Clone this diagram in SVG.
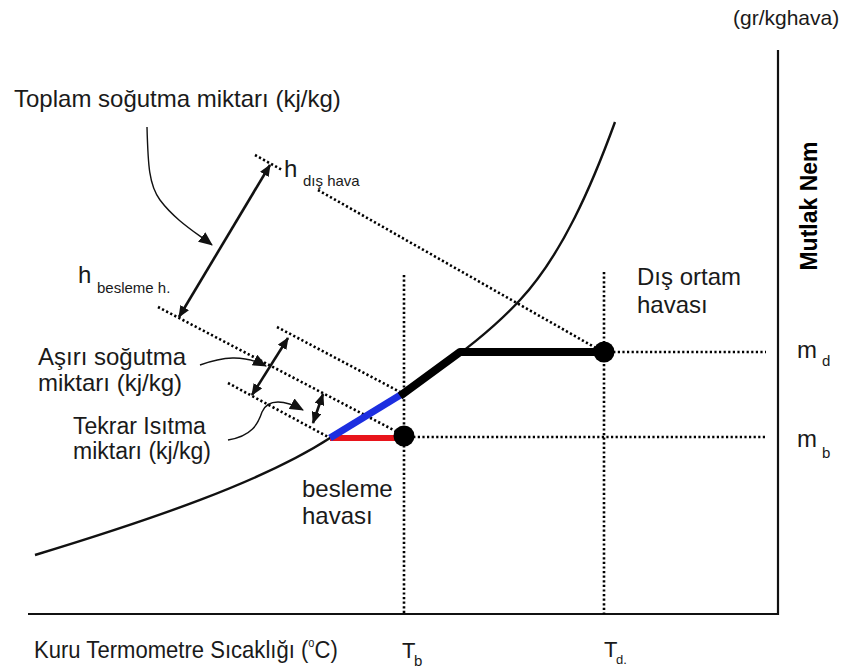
<svg xmlns="http://www.w3.org/2000/svg" width="842" height="670" viewBox="0 0 842 670">
<style>
text{font-family:"Liberation Sans",Arial,sans-serif;fill:#1a1a1a}
.lbl{font-size:24px}
.sub{font-size:15px}
.dot{fill:none;stroke:#000;stroke-width:2.6;stroke-dasharray:2.2 2.4}
.ax{fill:none;stroke:#111;stroke-width:2.2}
.ld{fill:none;stroke:#111;stroke-width:1.4}
.dbl{fill:none;stroke:#111;stroke-width:2.6;marker-start:url(#ah);marker-end:url(#ah)}
</style>
<defs>
<marker id="ah" viewBox="0 0 12 10" refX="11" refY="5" markerWidth="12" markerHeight="10" markerUnits="userSpaceOnUse" orient="auto-start-reverse">
<path d="M0,0 L12,5 L0,10 z" fill="#111"/>
</marker>
<marker id="ah2" viewBox="0 0 14 12" refX="13" refY="6" markerWidth="14" markerHeight="12" markerUnits="userSpaceOnUse" orient="auto">
<path d="M0,0 L14,6 L0,12 z" fill="#111"/>
</marker>
</defs>
<rect width="842" height="670" fill="#fff"/>

<g id="axes">
<path class="ax" d="M28,614 H779 M778,50 V615"/>
</g>

<g id="saturation-curve">
<path d="M35,555 C150,520 262,482 330,438 C400,396 472,352 520,300 C562,255 592,185 615,122" fill="none" stroke="#111" stroke-width="2.4"/>
</g>

<g id="guides">
<path class="dot" d="M255,155 L282,170"/>
<path class="dot" d="M318,190 L603,352"/>
<path class="dot" d="M158,307 L405,436"/>
<path class="dot" d="M277,327 L402,393"/>
<path class="dot" d="M228,383 L330,438"/>
<path class="dot" d="M404,275 V614"/>
<path class="dot" d="M604,272 V614"/>
<path class="dot" d="M604,352 H766"/>
<path class="dot" d="M404,437 H766"/>
</g>

<g id="process">
<path d="M330,438 L404,438" stroke="#e8141b" stroke-width="6" fill="none"/>
<path d="M330,438 L402,394" stroke="#1c2ee0" stroke-width="7" fill="none"/>
<path d="M400,396 L460,352 L604,352" stroke="#000" stroke-width="8" fill="none" stroke-linejoin="round"/>
<circle cx="604" cy="352" r="10.5" fill="#000"/>
<circle cx="404" cy="436" r="10.5" fill="#000"/>
</g>

<g id="connectors">
<path class="dbl" d="M270,165 L179,317"/>
<path class="dbl" d="M288,338 L252,395"/>
<path class="dbl" d="M323,394 L313,423"/>
<path class="ld" marker-end="url(#ah2)" d="M147,127 C148,165 149,185 160,200 C175,220 195,232 212,245"/>
<path class="ld" marker-end="url(#ah2)" d="M200,365 C222,357 243,354 266,366"/>
<path class="ld" marker-end="url(#ah2)" d="M228,440 C252,436 258,424 262,412 C268,398 285,400 303,410"/>
</g>

<g id="labels">
<text class="lbl" x="14" y="107">Toplam soğutma miktarı (kj/kg)</text>
<text class="lbl" x="284" y="177">h</text>
<text class="sub" x="303" y="186">dış hava</text>
<text class="lbl" x="78" y="283">h</text>
<text class="sub" x="97" y="293">besleme h.</text>
<text class="lbl" x="38" y="365">Aşırı soğutma</text>
<text class="lbl" x="38" y="391">miktarı (kj/kg)</text>
<text x="73" y="434" style="font-size:23px">Tekrar Isıtma</text>
<text x="73" y="459" style="font-size:23px">miktarı (kj/kg)</text>
<text class="lbl" x="302" y="497">besleme</text>
<text class="lbl" x="302" y="524">havası</text>
<text class="lbl" x="637" y="285">Dış ortam</text>
<text class="lbl" x="637" y="313">havası</text>
<text class="lbl" x="797" y="358">m</text>
<text class="sub" x="822" y="366">d</text>
<text class="lbl" x="797" y="447">m</text>
<text class="sub" x="822" y="458">b</text>
<text x="733" y="25" style="font-size:21px">(gr/kghava)</text>
<text transform="translate(817,206) rotate(-90)" text-anchor="middle" style="font-size:23px;font-weight:bold;fill:#000">Mutlak Nem</text>
<text transform="translate(34,658) scale(0.92,1)" style="font-size:24px">Kuru Termometre Sıcaklığı (<tspan dy="-11" style="font-size:12px">o</tspan><tspan dy="11">C)</tspan></text>
<text x="402" y="658" style="font-size:22px">T</text>
<text class="sub" x="414" y="666">b</text>
<text x="604" y="657" style="font-size:22px">T</text>
<text x="616" y="664" style="font-size:13px">d.</text>
</g>
</svg>
